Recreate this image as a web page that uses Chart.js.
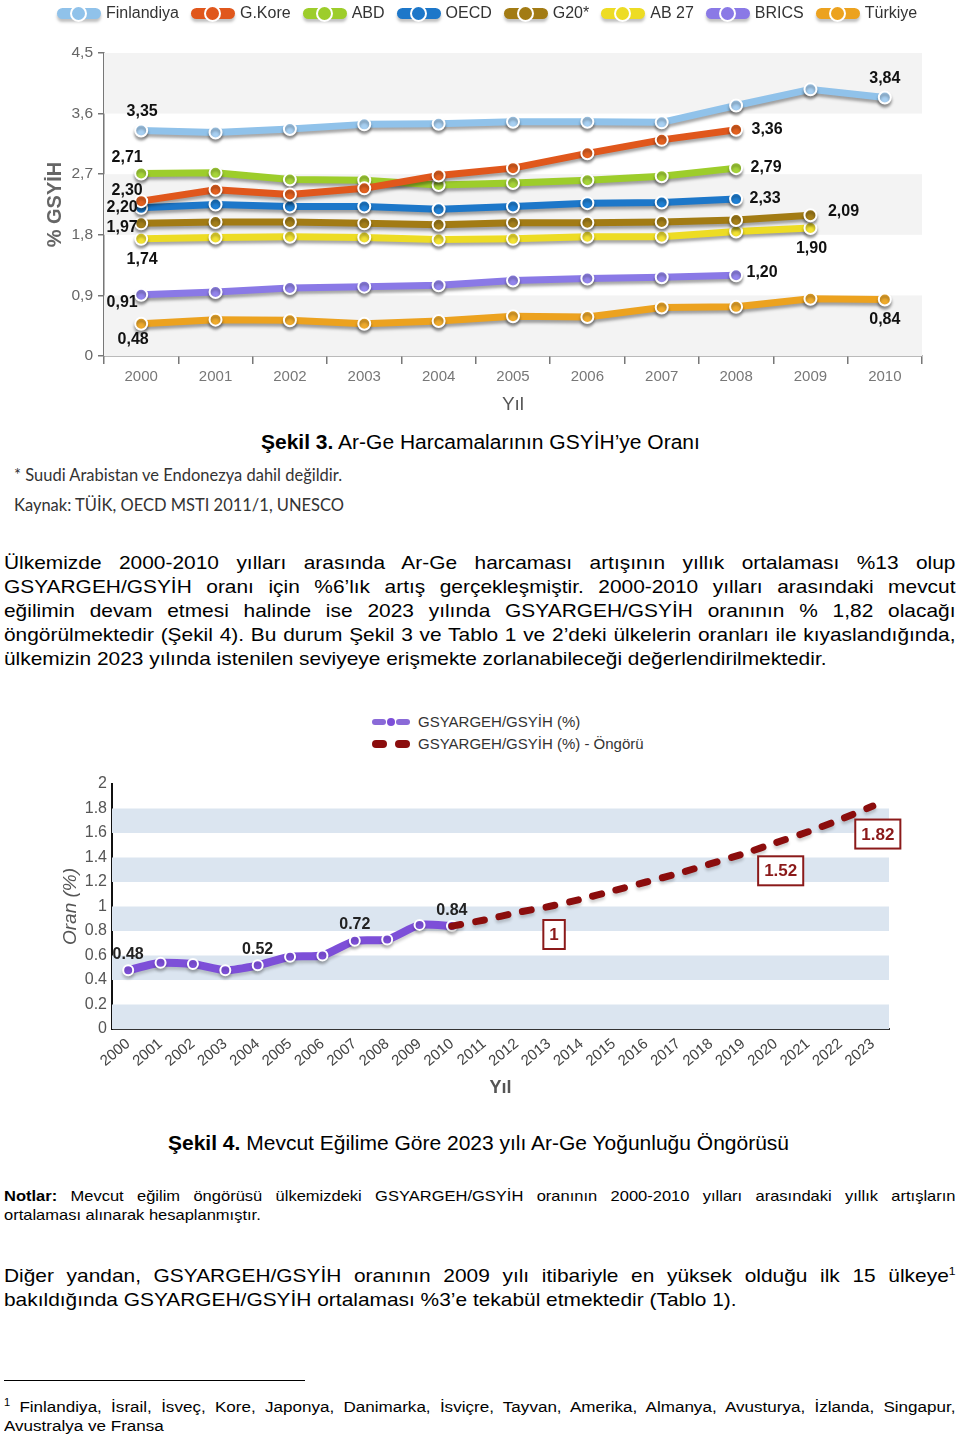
<!DOCTYPE html>
<html lang="tr">
<head>
<meta charset="utf-8">
<script src="https://cdn.jsdelivr.net/npm/chart.js@4.4.1/dist/chart.umd.min.js"></script>
<style>
body{margin:0;width:960px;height:1436px;position:relative;background:#fff;font-family:"Liberation Sans",Arial,sans-serif;color:#000;overflow:hidden}
.abs{position:absolute}
canvas{display:block}

#legend1{left:57px;top:1px;display:flex;gap:12px;font-size:16px;color:#333}
.li{display:flex;align-items:center;gap:5px;height:24px}
.sw{position:relative;width:44px;height:11px;border-radius:6px;box-shadow:0 3px 3px rgba(0,0,0,.25)}
.sw::after{content:"";position:absolute;left:13px;top:-3px;width:13px;height:13px;border-radius:50%;background:inherit;border:2px solid #fff}

#legend2{left:372px;top:711px;font-size:15px;color:#333;line-height:22px}
.l2{display:flex;align-items:center;gap:8px}
.sw2{width:38px;height:8px;position:relative}

.cap{font-size:20px;line-height:24px;white-space:nowrap;transform:scaleX(1.05);transform-origin:left}
.note{font-family:Lato,"Noto Sans",sans-serif;font-size:16.5px;color:#333;white-space:nowrap}
.str{transform:scaleX(1.1);transform-origin:left}
.jl{white-space:nowrap;text-align:justify;text-align-last:justify;width:865px}
.last{text-align-last:left}
</style>
</head>
<body>

<!-- Şekil 3 -->
<div class="abs" style="left:0;top:0"><canvas id="chart1" width="960" height="420"></canvas></div>
<div id="legend1" class="abs"></div>

<div class="abs cap" style="left:261px;top:430px"><b>Şekil 3.</b> Ar-Ge Harcamalarının GSYİH’ye Oranı</div>
<div class="abs note" style="left:14px;top:465px">* Suudi Arabistan ve Endonezya dahil değildir.</div>
<div class="abs note" style="left:14px;top:495px">Kaynak: TÜİK, OECD MSTI 2011/1, UNESCO</div>

<div class="abs str" style="left:4px;top:551px;font-size:19px;line-height:24px">
  <div class="jl">Ülkemizde 2000-2010 yılları arasında Ar-Ge harcaması artışının yıllık ortalaması %13 olup</div>
  <div class="jl">GSYARGEH/GSYİH oranı için %6’lık artış gerçekleşmiştir. 2000-2010 yılları arasındaki mevcut</div>
  <div class="jl">eğilimin devam etmesi halinde ise 2023 yılında GSYARGEH/GSYİH oranının % 1,82 olacağı</div>
  <div class="jl">öngörülmektedir (Şekil 4). Bu durum Şekil 3 ve Tablo 1 ve 2’deki ülkelerin oranları ile kıyaslandığında,</div>
  <div class="jl last">ülkemizin 2023 yılında istenilen seviyeye erişmekte zorlanabileceği değerlendirilmektedir.</div>
</div>

<!-- Şekil 4 -->
<div id="legend2" class="abs">
  <div class="l2"><span class="sw2">
    <span class="abs" style="left:0;top:1px;width:14px;height:6px;border-radius:3px;background:#8a6ad8"></span>
    <span class="abs" style="left:15px;top:0;width:8px;height:8px;border-radius:50%;background:#7d4fd8"></span>
    <span class="abs" style="left:24px;top:1px;width:14px;height:6px;border-radius:3px;background:#8a6ad8"></span>
  </span>GSYARGEH/GSYİH (%)</div>
  <div class="l2"><span class="sw2">
    <span class="abs" style="left:0;top:0;width:15px;height:8px;border-radius:4px;background:#8b0d0d"></span>
    <span class="abs" style="left:23px;top:0;width:15px;height:8px;border-radius:4px;background:#8b0d0d"></span>
  </span>GSYARGEH/GSYİH (%) - Öngörü</div>
</div>
<div class="abs" style="left:0;top:700px"><canvas id="chart2" width="960" height="410"></canvas></div>

<div class="abs cap" style="left:168px;top:1131px"><b>Şekil 4.</b> Mevcut Eğilime Göre 2023 yılı Ar-Ge Yoğunluğu Öngörüsü</div>

<div class="abs str" style="left:4px;top:1186px;font-size:15px;line-height:19px">
  <div class="jl"><b>Notlar:</b> Mevcut eğilim öngörüsü ülkemizdeki GSYARGEH/GSYİH oranının 2000-2010 yılları arasındaki yıllık artışların</div>
  <div class="jl last">ortalaması alınarak hesaplanmıştır.</div>
</div>

<div class="abs str" style="left:4px;top:1264px;font-size:19px;line-height:24px">
  <div class="jl">Diğer yandan, GSYARGEH/GSYİH oranının 2009 yılı itibariyle en yüksek olduğu ilk 15 ülkeye<sup style="font-size:11px;line-height:0">1</sup></div>
  <div class="jl last">bakıldığında GSYARGEH/GSYİH ortalaması %3’e tekabül etmektedir (Tablo 1).</div>
</div>

<div class="abs" style="left:4px;top:1380px;width:301px;height:1px;background:#000"></div>
<div class="abs str" style="left:4px;top:1397px;font-size:15.5px;line-height:19px">
  <div class="jl"><sup style="font-size:10px;line-height:0">1</sup> Finlandiya, İsrail, İsveç, Kore, Japonya, Danimarka, İsviçre, Tayvan, Amerika, Almanya, Avusturya, İzlanda, Singapur,</div>
  <div class="jl last">Avustralya ve Fransa</div>
</div>

<script>
// ------------------------------
// DATA - Şekil 3
// ------------------------------

const years1 = ["2000","2001","2002","2003","2004","2005","2006","2007","2008","2009","2010"]
const yTicks1 = [0, 0.9, 1.8, 2.7, 3.6, 4.5]

const finlandiya = [3.35, 3.32, 3.37, 3.44, 3.45, 3.48, 3.48, 3.47, 3.72, 3.96, 3.84]
const gKore      = [2.30, 2.47, 2.40, 2.49, 2.68, 2.79, 3.01, 3.21, 3.36, null, null]
const abd        = [2.71, 2.72, 2.62, 2.61, 2.54, 2.57, 2.61, 2.67, 2.79, null, null]
const oecd       = [2.20, 2.25, 2.22, 2.22, 2.18, 2.22, 2.27, 2.28, 2.33, null, null]
const g20        = [1.97, 1.99, 1.99, 1.97, 1.95, 1.98, 1.98, 1.99, 2.02, 2.09, null]
const ab27       = [1.74, 1.76, 1.77, 1.76, 1.73, 1.74, 1.77, 1.77, 1.85, 1.90, null]
const brics      = [0.91, 0.95, 1.01, 1.03, 1.05, 1.12, 1.15, 1.17, 1.20, null, null]
const turkiye    = [0.48, 0.54, 0.53, 0.48, 0.52, 0.59, 0.58, 0.72, 0.73, 0.85, 0.84]

const names1 = ["Finlandiya","G.Kore","ABD","OECD","G20*","AB 27","BRICS","Türkiye"]
const series1 = [finlandiya, gKore, abd, oecd, g20, ab27, brics, turkiye]
const colors1 = ["#90c2ea","#e0571c","#9dcd2b","#1d77c9","#a27b14","#eddc24","#8a79e6","#eca21f"]
const pointColors1 = ["#a8d0f2","#e2601f","#a6d43a","#1f7fd3","#a47f1a","#f2e233","#9385ec","#eeaa2c"]

// which value gets a number printed: [series, year index, dx, dy]
const labelSpots1 = [
    [0,0,1,-19],[2,0,-14,-16],[1,0,-14,-11],[3,0,-19,0],[4,0,-19,4],[5,0,1,21],[6,0,-19,8],[7,0,-8,16],
    [0,10,0,-19],[1,8,31,0],[2,8,30,-1],[3,8,29,-1],[4,9,33,-4],[5,9,1,21],[6,8,26,-3],[7,10,0,20]
]

// ------------------------------
// DATA - Şekil 4
// ------------------------------

const years2 = ["2000","2001","2002","2003","2004","2005","2006","2007","2008","2009","2010","2011",
    "2012","2013","2014","2015","2016","2017","2018","2019","2020","2021","2022","2023"]
const yTicks2 = [0, 0.2, 0.4, 0.6, 0.8, 1, 1.2, 1.4, 1.6, 1.8, 2]

const oran = [0.48, 0.54, 0.53, 0.48, 0.52, 0.59, 0.60, 0.72, 0.73, 0.85, 0.84]
const ongoru = [null, null, null, null, null, null, null, null, null, null,
    0.84, 0.89, 0.95, 1.00, 1.06, 1.13, 1.20, 1.27, 1.35, 1.43, 1.52, 1.61, 1.71, 1.82]

const labeledYears2 = [0, 4, 7, 10]
const boxedYears2 = [13, 20, 23]

// ------------------------------
// LEGEND (Şekil 3)
// ------------------------------

const legend1 = document.getElementById("legend1")
names1.forEach((n,i)=>{
    const item = document.createElement("div")
    item.className = "li"
    item.innerHTML = `<span class="sw" style="background:${colors1[i]}"></span><span>${n}</span>`
    legend1.appendChild(item)
})

// ------------------------------
// PLUGINS
// ------------------------------

function bandsPlugin(ticks, color){
    return {
        id:"bands",
        beforeDatasetsDraw(chart){
            const {ctx, chartArea, scales} = chart
            ctx.save()
            ctx.fillStyle = color
            for(let i=0;i<ticks.length-1;i+=2){
                const y1 = scales.y.getPixelForValue(ticks[i])
                const y2 = scales.y.getPixelForValue(ticks[i+1])
                ctx.fillRect(chartArea.left, y2, chartArea.right-chartArea.left, y1-y2)
            }
            ctx.restore()
        }
    }
}

function shadowPlugin(alpha, off){
    return {
        id:"shadow",
        beforeDatasetDraw(chart){
            const c = chart.ctx
            c.save()
            c.shadowColor = `rgba(0,0,0,${alpha})`
            c.shadowBlur = 3
            c.shadowOffsetY = off
        },
        afterDatasetDraw(chart){
            chart.ctx.restore()
        }
    }
}

const numbers1 = {
    id:"numbers1",
    afterDatasetsDraw(chart){
        const ctx = chart.ctx
        ctx.save()
        ctx.font = "bold 16px 'Liberation Sans', Arial, sans-serif"
        ctx.fillStyle = "#111"
        ctx.textAlign = "center"
        ctx.textBaseline = "middle"
        for(const [s,i,dx,dy] of labelSpots1){
            const pt = chart.getDatasetMeta(s).data[i]
            const txt = series1[s][i].toFixed(2).replace(".",",")
            ctx.fillText(txt, pt.x+dx, pt.y+dy)
        }
        ctx.restore()
    }
}

const numbers2 = {
    id:"numbers2",
    afterDatasetsDraw(chart){
        const ctx = chart.ctx
        ctx.save()
        ctx.textAlign = "center"
        ctx.textBaseline = "middle"

        ctx.font = "bold 16px 'Liberation Sans', Arial, sans-serif"
        ctx.fillStyle = "#222"
        for(const i of labeledYears2){
            const pt = chart.getDatasetMeta(1).data[i]
            ctx.fillText(oran[i].toFixed(2), pt.x, pt.y-16)
        }

        ctx.font = "bold 17px 'Liberation Sans', Arial, sans-serif"
        for(const i of boxedYears2){
            const pt = chart.getDatasetMeta(0).data[i]
            const txt = String(ongoru[i])
            const w = ctx.measureText(txt).width + 12
            const h = 29
            const cx = pt.x+5, cy = pt.y+28
            ctx.fillStyle = "#fff"
            ctx.fillRect(cx-w/2, cy-h/2, w, h)
            ctx.strokeStyle = "#8b1a1a"
            ctx.lineWidth = 2
            ctx.strokeRect(cx-w/2, cy-h/2, w, h)
            ctx.fillStyle = "#8b1a1a"
            ctx.fillText(txt, cx, cy+1)
        }
        ctx.restore()
    }
}

// ------------------------------
// CHART 1
// ------------------------------

new Chart(document.getElementById("chart1"),{
    type:"line",
    data:{
        labels:years1,
        datasets:series1.map((d,i)=>({
            label:names1[i],
            data:d,
            borderColor:colors1[i],
            backgroundColor:pointColors1[i],
            borderWidth:7,
            pointRadius:6,
            pointBorderWidth:2,
            pointBorderColor:"#fff",
            borderJoinStyle:"round",
            tension:0,
            spanGaps:false
        }))
    },
    options:{
        responsive:false,
        animation:false,
        layout:{padding:{left:0,top:53,right:38,bottom:0}},
        plugins:{legend:{display:false},tooltip:{enabled:false}},
        scales:{
            x:{
                offset:true,
                grid:{offset:true,drawOnChartArea:false,tickLength:8,color:"#777",lineWidth:1.5},
                border:{color:"#777",width:1.5},
                ticks:{color:"#777",font:{size:15},padding:4},
                title:{display:true,text:"Yıl",color:"#555",font:{size:19},padding:{bottom:4}},
                afterFit(s){ s.height = 64 }
            },
            y:{
                min:0,max:4.5,
                afterBuildTicks(s){ s.ticks = yTicks1.map(v=>({value:v})) },
                grid:{drawOnChartArea:false,tickLength:6,color:"#777",lineWidth:1.5},
                border:{color:"#777",width:1.5},
                ticks:{color:"#666",font:{size:15.5},padding:5,
                    callback:v=> v===0 ? "0" : v.toFixed(1).replace(".",",")},
                title:{display:true,text:"% GSYİH",color:"#666",font:{size:20,weight:"bold"},padding:{top:43}},
                afterFit(s){ s.width = 104 }
            }
        }
    },
    plugins:[bandsPlugin(yTicks1,"#f3f3f3"), shadowPlugin(0.35,3), numbers1]
})

// ------------------------------
// CHART 2
// ------------------------------

new Chart(document.getElementById("chart2"),{
    type:"line",
    data:{
        labels:years2,
        datasets:[
            {
                label:"GSYARGEH/GSYİH (%) - Öngörü",
                data:ongoru,
                borderColor:"#8b0d0d",
                borderWidth:7,
                borderDash:[9,15],
                borderCapStyle:"round",
                pointRadius:0,
                tension:0.15
            },
            {
                label:"GSYARGEH/GSYİH (%)",
                data:oran,
                borderColor:"#7d4fd8",
                backgroundColor:"#7d4fd8",
                borderWidth:8,
                pointRadius:5,
                pointBorderWidth:2,
                pointBorderColor:"#fff",
                borderJoinStyle:"round",
                tension:0.2
            }
        ]
    },
    options:{
        responsive:false,
        animation:false,
        layout:{padding:{left:0,top:84,right:71,bottom:0}},
        plugins:{legend:{display:false},tooltip:{enabled:false}},
        scales:{
            x:{
                offset:true,
                grid:{drawOnChartArea:false,drawTicks:false},
                border:{color:"#333",width:2},
                ticks:{color:"#444",font:{size:15},padding:6,minRotation:40,maxRotation:40,autoSkip:false},
                title:{display:true,text:"Yıl",color:"#555",font:{size:18,weight:"bold"},padding:{bottom:11}},
                afterFit(s){ s.height = 81 }
            },
            y:{
                min:0,max:2,
                afterBuildTicks(s){ s.ticks = yTicks2.map(v=>({value:v})) },
                grid:{drawOnChartArea:false,drawTicks:false},
                border:{color:"#111",width:2},
                ticks:{color:"#555",font:{size:16},padding:5,callback:v=>String(v)},
                title:{display:true,text:"Oran (%)",color:"#555",font:{size:19,style:"italic"},padding:{top:59}},
                afterFit(s){ s.width = 112 }
            }
        }
    },
    plugins:[bandsPlugin(yTicks2,"#dbe5f0"), shadowPlugin(0.18,3), numbers2]
})
</script>
</body>
</html>
